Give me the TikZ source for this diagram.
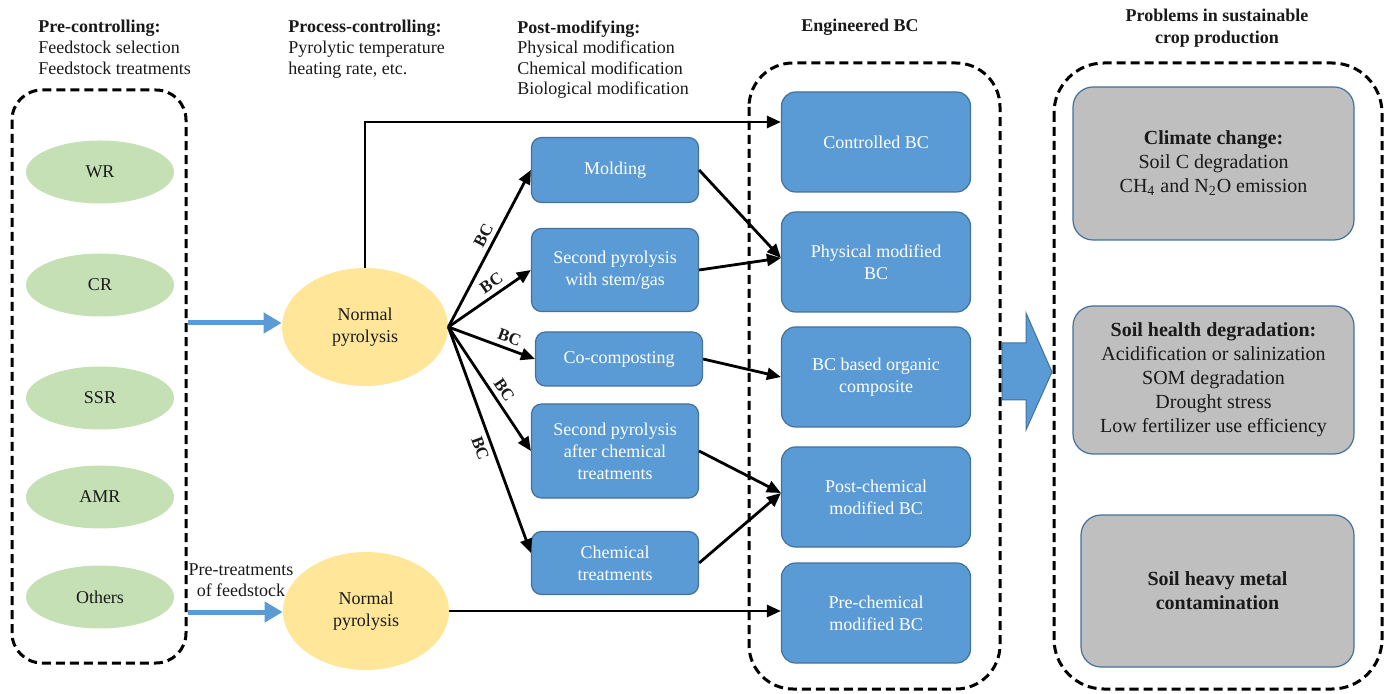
\documentclass[tikz,border=0pt]{standalone}
\usepackage{fontspec}
\setmainfont{Liberation Serif}
\usetikzlibrary{arrows.meta,shapes.geometric,calc}
\definecolor{boxblue}{HTML}{5B9BD5}
\definecolor{boxedge}{HTML}{41719C}
\definecolor{leaf}{HTML}{C5E0B4}
\definecolor{sun}{HTML}{FFE699}
\definecolor{stone}{HTML}{BFBFBF}
\definecolor{ink}{HTML}{1A1A1A}
\begin{document}
\begin{tikzpicture}[x=0.5pt,y=-0.5pt,
  txt/.style={font=\fontsize{9}{10.5}\selectfont, text=ink, inner sep=0pt},
  frame/.style={draw=black, line width=1.5pt, dash pattern=on 4.5pt off 2.5pt},
  feed/.style={ellipse, fill=leaf, minimum width=74pt, minimum height=31.5pt, inner sep=0pt, font=\fontsize{9}{10.5}\selectfont, text=ink},
  pyro/.style={ellipse, fill=sun, minimum width=83pt, minimum height=59pt, inner sep=0pt, align=center, font=\fontsize{9}{11}\selectfont, text=ink},
  proc/.style={draw=boxedge, line width=0.6pt, fill=boxblue, rounded corners=5pt, text=white, align=center, font=\fontsize{9}{11}\selectfont, inner sep=0pt, minimum width=83.5pt},
  prod/.style={proc, rounded corners=7pt, minimum width=94.5pt, minimum height=50pt},
  issue/.style={draw=boxedge, line width=0.6pt, fill=stone, rounded corners=10pt, align=center, text=ink, font=\fontsize{10}{12}\selectfont, inner sep=0pt},
  link/.style={draw=black, line width=1.4pt, -{Triangle[length=7pt,width=6pt]}},
  feedarrow/.style={draw=boxblue, line width=2.5pt, -{Triangle[length=9pt,width=10pt]}},
  bclab/.style={font=\bfseries\fontsize{8.5}{10}\selectfont, inner sep=0.5pt, outer sep=2.5pt, sloped, text=ink}
]
\useasboundingbox (0,0) rectangle (1385,694);

% frames
\draw[frame, rounded corners=15pt] (12,90) rectangle (186,663);
\draw[frame, rounded corners=22pt] (749,63) rectangle (1000,689);
\draw[frame, rounded corners=25pt] (1054,63) rectangle (1382,689);

% headers
\node[txt, anchor=north west, align=left] (hdpre) at (38,20) {\textbf{Pre-controlling:}\\Feedstock selection\\Feedstock treatments};
\node[txt, anchor=north west, align=left] (hdproc) at (288,20) {\textbf{Process-controlling:}\\Pyrolytic temperature\\heating rate, etc.};
\node[txt, anchor=north west, align=left, font=\fontsize{9}{10.3}\selectfont] (hdpost) at (517,20) {\textbf{Post-modifying:}\\Physical modification\\Chemical modification\\Biological modification};
\node[txt, font=\bfseries\fontsize{9}{10.5}\selectfont] (hdeng) at (860,27) {Engineered BC};
\node[txt, align=center, font=\bfseries\fontsize{9}{11}\selectfont] (hdprob) at (1217,28) {Problems in sustainable\\crop production};

% feedstocks
\node[feed] (wr) at (100,172) {WR};
\node[feed] (cr) at (100,285) {CR};
\node[feed] (ssr) at (100,398) {SSR};
\node[feed] (amr) at (100,497) {AMR};
\node[feed] (oth) at (100,597) {Others};

% pyrolysis
\node[pyro] (np1) at (365,327) {Normal\\pyrolysis};
\node[pyro] (np2) at (366,611) {Normal\\pyrolysis};

% post-modifying processes
\node[proc, minimum height=32.5pt] (mold) at (615,170) {Molding};
\node[proc, minimum height=41.5pt] (stem) at (615,270) {Second pyrolysis\\with stem/gas};
\node[proc, minimum height=27pt] (coco) at (619,359) {Co-composting};
\node[proc, minimum height=47pt] (after) at (615,451) {Second pyrolysis\\after chemical\\treatments};
\node[proc, minimum height=31.5pt] (chem) at (615,563) {Chemical\\treatments};

% engineered BC
\node[prod] (ctrl) at (876,142) {Controlled BC};
\node[prod] (phys) at (876,262) {Physical modified\\BC};
\node[prod] (org) at (876,377) {BC based organic\\composite};
\node[prod] (post) at (876,497) {Post-chemical\\modified BC};
\node[prod] (pre) at (876,613) {Pre-chemical\\modified BC};

% problems
\node[issue, minimum width=140.5pt, minimum height=76.5pt] (clim) at (1213.5,163.5) {{\bfseries Climate change:}\\Soil C degradation\\CH\textsubscript{4} and N\textsubscript{2}O emission};
\node[issue, minimum width=140.5pt, minimum height=74pt] (health) at (1213.5,380) {{\bfseries Soil health degradation:}\\Acidification or salinization\\SOM degradation\\Drought stress\\Low fertilizer use efficiency};
\node[issue, minimum width=136.5pt, minimum height=76pt, font=\bfseries\fontsize{10}{12}\selectfont] (metal) at (1217.5,591) {Soil heavy metal\\contamination};

% feed arrows
\coordinate (fs1) at (188,323);
\coordinate (fs2) at (188,612);
\draw[feedarrow] (fs1) -- (fs1 -| np1.west);
\draw[feedarrow] (fs2) -- (fs2 -| np2.west);
\node[txt, align=center] (pretr) at (241,580) {Pre-treatments\\of feedstock};

% connectors
\draw[link] (np1.north) |- ([yshift=10pt]ctrl.west);
\draw[link] (np2.east) -- (np2.east -| pre.west);
\draw[link] (np1.east) -- (mold.west) node[bclab, above, pos=0.55] {BC};
\draw[link] (np1.east) -- (stem.west) node[bclab, above, pos=0.60] {BC};
\draw[link] (np1.east) -- (coco.west) node[bclab, above, pos=0.66] {BC};
\draw[link] (np1.east) -- (after.west) node[bclab, above, pos=0.56] {BC};
\draw[link] (np1.east) -- ([yshift=5pt]chem.west) node[bclab, below, pos=0.52] {BC};

\draw[link] (mold.east) -- ([yshift=2pt]phys.west);
\draw[link] (stem.east) -- ([yshift=2pt]phys.west);
\draw[link] (coco.east) -- (org.west);
\draw[link] (after.east) -- ([yshift=2pt]post.west);
\draw[link] (chem.east) -- ([yshift=2pt]post.west);

% big block arrow
\filldraw[fill=boxblue, draw=boxedge, line width=0.5pt] (1002,343) -- (1026,343) -- (1026,313) -- (1052,372) -- (1026,430) -- (1026,400) -- (1002,400) -- cycle;
\end{tikzpicture}
\end{document}
